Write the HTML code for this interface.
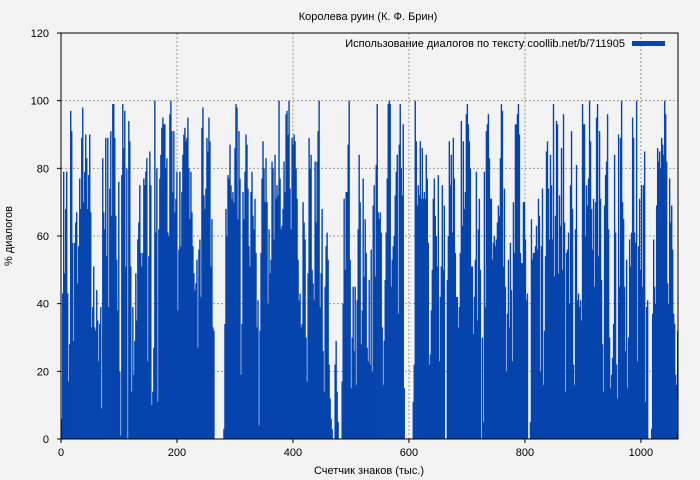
<!DOCTYPE html>
<html><head><meta charset="utf-8">
<style>
html,body{margin:0;padding:0;background:#f3f3f3;}
svg{display:block;font-family:"Liberation Sans",sans-serif;}
</style></head>
<body>
<svg id="chart" width="700" height="480" viewBox="0 0 700 480">
  <rect x="0" y="0" width="700" height="480" fill="#f3f3f3"/>
  <text x="368" y="20" text-anchor="middle" font-size="11" fill="#000">Королева руин (К. Ф. Брин)</text>
  <g id="grid"></g>
  <g id="bars"></g>
  <g id="axes"></g>
  <text x="369" y="474" text-anchor="middle" font-size="11" fill="#000">Счетчик знаков (тыс.)</text>
  <text transform="translate(12,236) rotate(-90)" text-anchor="middle" font-size="11" fill="#000">% диалогов</text>
  <g>
    <text x="625" y="47" text-anchor="end" font-size="11" fill="#000">Использование диалогов по тексту coollib.net/b/711905</text>
    <rect x="632" y="41" width="33" height="5" fill="#0645ad"/>
  </g>
</svg>
<script>
const xMax = 1064;
const xTicks = [0,200,400,600,800,1000];
const yTicks = [0,20,40,60,80,100,120];
const values = [6,43,79,49,68,79,43,17,28,97,91,58,29,58,64,67,46,57,77,68,89,98,70,79,90,83,68,78,90,67,33,39,51,33,32,44,35,23,34,39,9,83,67,62,89,54,89,39,74,91,66,99,99,89,66,53,38,76,20,1,78,99,86,97,51,80,0,94,88,51,14,39,19,29,49,35,59,64,75,55,51,55,77,75,79,83,23,54,85,75,10,14,27,100,61,80,11,62,77,84,92,95,93,93,80,83,61,60,96,100,91,73,91,67,71,79,38,56,79,57,73,84,90,92,88,89,95,80,65,79,67,57,49,44,46,53,27,56,59,42,92,98,72,68,74,89,85,95,88,51,65,33,32,
0,0,0,0,0,0,0,0,0,
3,34,68,60,78,77,87,75,71,73,70,86,99,98,65,91,77,19,34,73,65,79,90,87,74,57,51,73,79,66,62,71,55,33,41,4,32,55,77,88,80,70,83,70,40,62,49,53,82,80,59,84,71,75,72,100,77,62,63,68,82,73,96,97,90,100,74,62,89,87,90,88,80,71,53,41,43,33,34,70,64,59,30,17,49,89,80,84,50,46,41,82,64,82,91,100,39,49,68,26,14,45,57,61,53,22,12,6,3,0,0,22,29,14,5,0,0,0,17,40,71,50,73,73,87,100,53,15,30,45,26,45,16,41,62,84,70,28,38,77,48,65,55,27,23,47,
22,56,20,69,75,48,81,99,67,65,67,61,33,16,29,47,61,77,99,100,99,45,53,57,60,72,79,84,37,87,99,80,72,93,15,0,0,0,0,0,0,0,0,11,22,100,88,69,75,72,88,71,86,71,73,71,84,77,58,22,25,38,50,71,77,66,60,51,78,23,42,51,75,50,69,0,0,47,60,88,75,84,61,89,77,55,42,42,33,39,55,94,63,88,68,73,96,99,93,88,80,51,51,31,42,53,79,35,62,71,50,0,30,5,79,39,91,93,96,83,71,71,53,58,60,57,59,64,69,66,83,99,97,51,74,45,20,37,53,33,58,44,23,70,55,93,93,96,99,90,55,52,52,70,70,
59,41,43,0,0,5,65,53,55,55,57,63,56,71,66,20,57,74,16,32,54,85,88,74,59,84,75,59,99,48,66,94,93,49,72,63,86,50,96,64,14,55,56,61,40,75,91,68,22,16,62,81,41,43,39,41,35,99,93,93,60,75,69,77,100,88,68,56,71,45,70,95,99,54,91,71,47,28,14,69,78,82,96,62,30,15,19,24,34,84,61,22,12,90,45,89,100,70,65,45,26,53,15,30,59,51,61,95,89,61,58,100,23,57,71,50,75,45,75,85,11,39,41,0,0,0,3,37,59,45,40,69,86,82,85,80,89,87,84,100,96,82,46,40,77,64,69,56,37,34,19,16,32];
const binSize = xMax / values.length;

const NS = "http://www.w3.org/2000/svg";
const L = 61, R = 678, T = 33, B = 439;
const yMax = 120;
function xs(v){ return L + (v / xMax) * (R - L); }
function ys(v){ return B - (v / yMax) * (B - T); }
function mk(tag, attrs, parent){
  const e = document.createElementNS(NS, tag);
  for (const k in attrs) e.setAttribute(k, attrs[k]);
  parent.appendChild(e);
  return e;
}
const grid = document.getElementById('grid');
const bars = document.getElementById('bars');
const axes = document.getElementById('axes');

yTicks.forEach(t => {
  if (t === 0 || t === yMax) return;
  const g = mk('line', {x1:L, x2:R, y1:ys(t), y2:ys(t), stroke:'#999', 'stroke-dasharray':'2,2', 'stroke-width':1}, grid);
  
  
});
xTicks.forEach(t => {
  if (t === 0) return;
  const g = mk('line', {x1:xs(t), x2:xs(t), y1:T, y2:B, stroke:'#999', 'stroke-dasharray':'2,2', 'stroke-width':1}, grid);
  
  
});

values.forEach((v, i) => {
  if (v <= 0) return;
  const x0 = xs(i * binSize);
  const x1 = Math.min(xs((i + 1) * binSize), R);
  const b = mk('rect', {x:x0, y:ys(v), width:Math.max(x1 - x0 + 0.4, 1), height:B - ys(v), fill:'#0645ad'}, bars);
  
  
});

const frame = mk('rect', {x:L, y:T, width:R-L, height:B-T, fill:'none', stroke:'#000', 'stroke-width':1}, axes);



yTicks.forEach(t => {
  mk('line', {x1:L-4, x2:L, y1:ys(t), y2:ys(t), stroke:'#000'}, axes);
  const lb = mk('text', {x:L-12, y:ys(t)+4, 'text-anchor':'end', 'font-size':11, fill:'#000'}, axes);
  lb.textContent = t;
  
  
});
xTicks.forEach(t => {
  mk('line', {x1:xs(t), x2:xs(t), y1:B, y2:B+4, stroke:'#000'}, axes);
  const lb = mk('text', {x:xs(t), y:B+17, 'text-anchor':'middle', 'font-size':11, fill:'#000'}, axes);
  lb.textContent = t;
  
  
});
</script>
</body></html>
